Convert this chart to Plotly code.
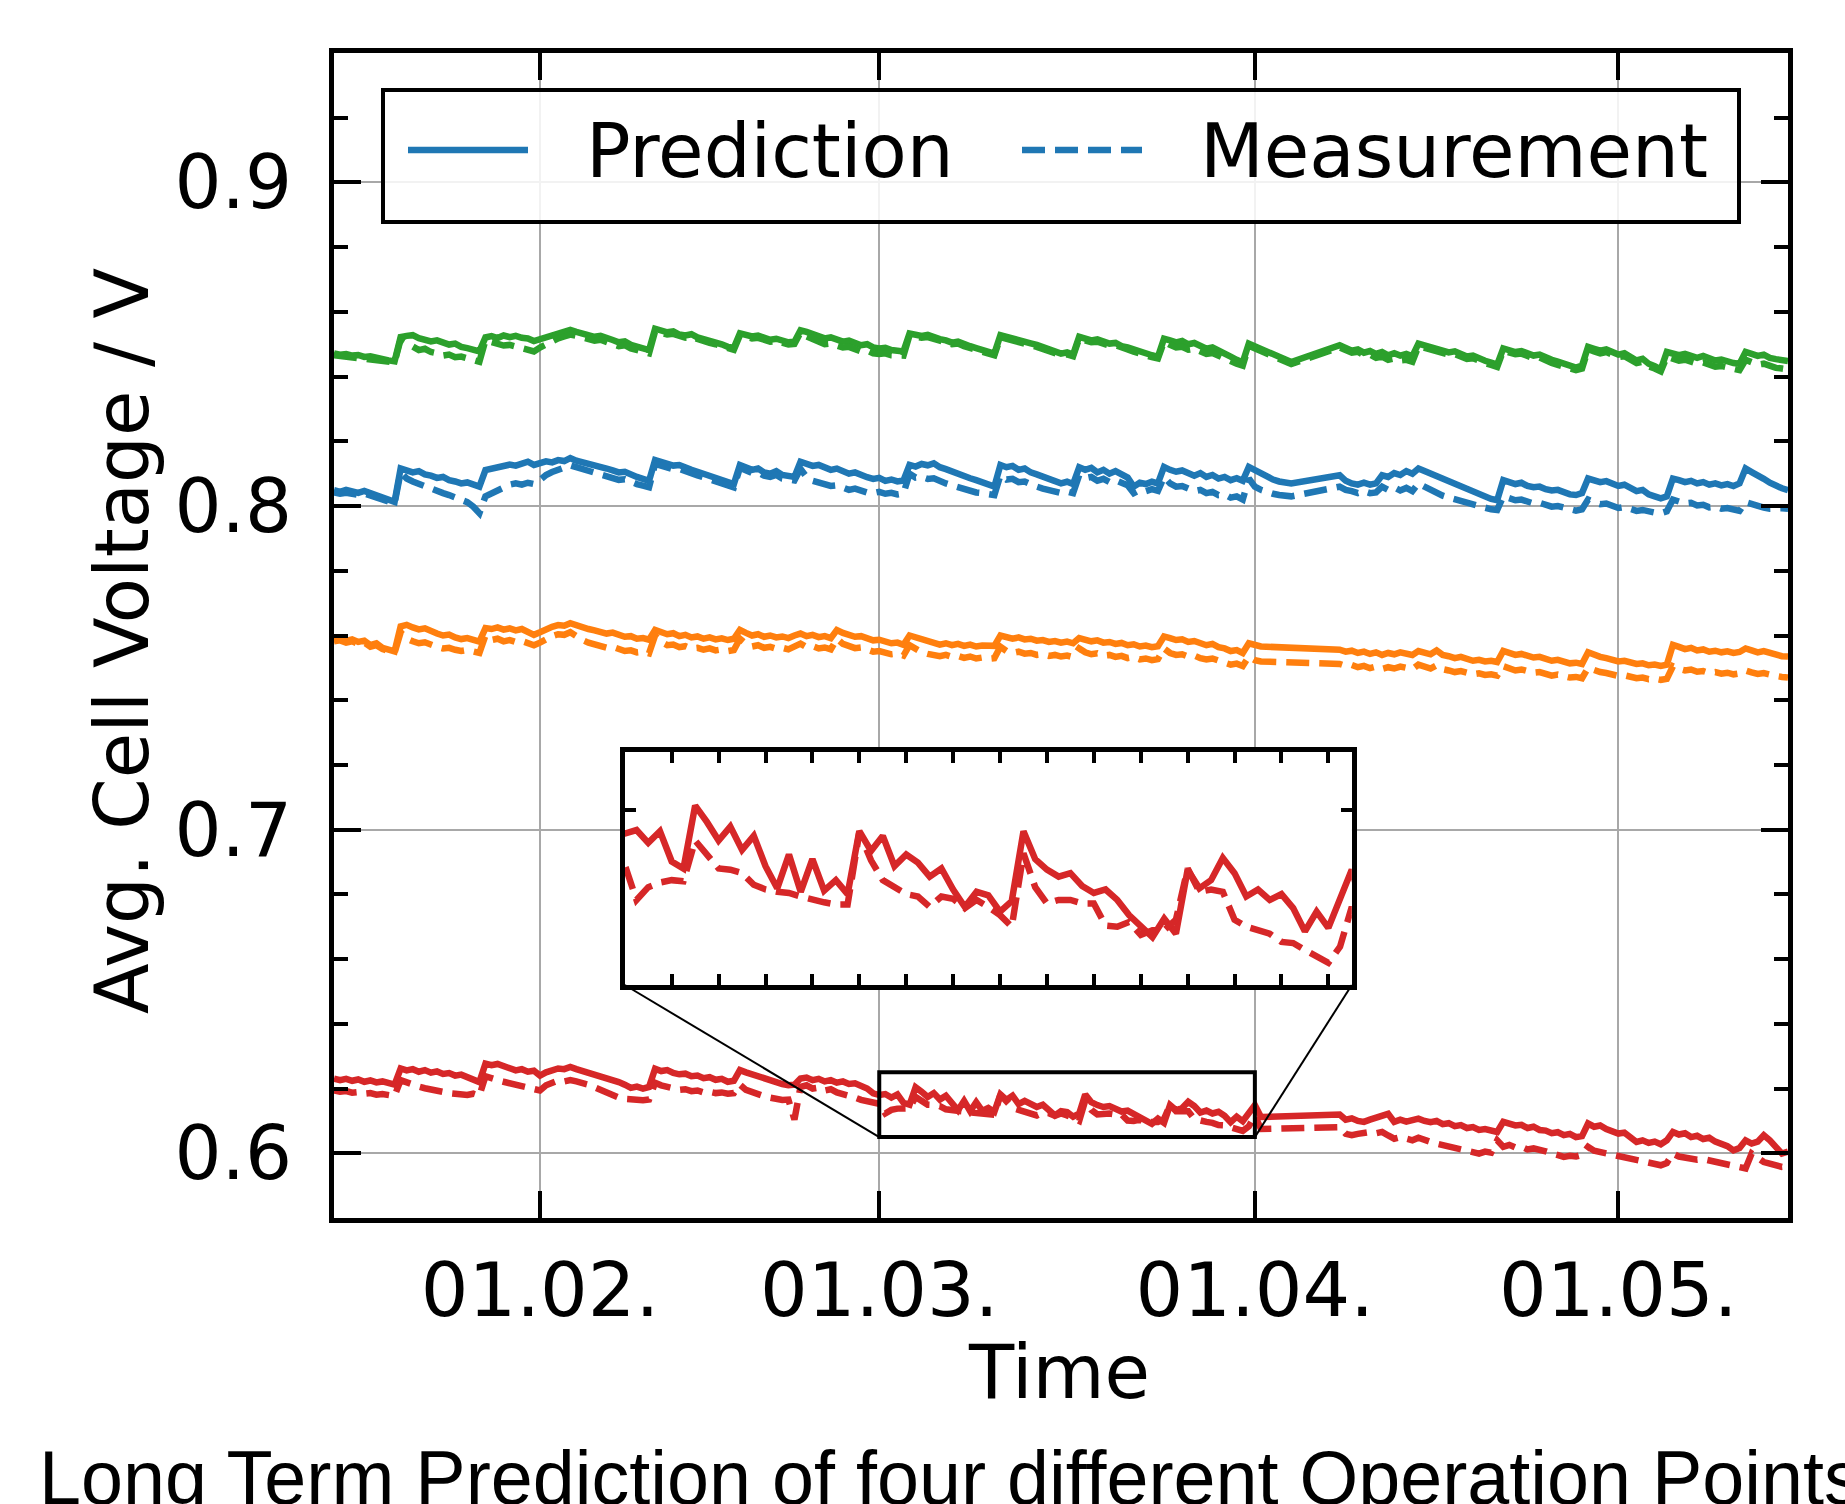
import plotly.graph_objects as go
import pandas as pd

# ---------------- data (12 h sampling, 15 Jan - 15 May) ----------------
start_date = "2021-01-15"
end_date = "2021-05-15"
n_points = 241
times = pd.date_range(start_date, periods=n_points, freq="12h")

month_ticks = ["2021-02-01", "2021-03-01", "2021-04-01", "2021-05-01"]
month_labels = ["01.02.", "01.03.", "01.04.", "01.05."]
y_ticks = [0.6, 0.7, 0.8, 0.9]

green_pred = [
    0.8472, 0.8468, 0.8470, 0.8465, 0.8467, 0.8461, 0.8463, 0.8457, 0.8455, 0.8450,
    0.8447, 0.8522, 0.8526, 0.8528, 0.8519, 0.8515, 0.8509, 0.8512, 0.8503, 0.8499,
    0.8502, 0.8492, 0.8488, 0.8484, 0.8478, 0.8521, 0.8525, 0.8519, 0.8527, 0.8522,
    0.8526, 0.8520, 0.8518, 0.8510, 0.8516, 0.8525, 0.8530, 0.8536, 0.8540, 0.8544,
    0.8538, 0.8534, 0.8530, 0.8523, 0.8526, 0.8517, 0.8513, 0.8506, 0.8509, 0.8498,
    0.8494, 0.8488, 0.8482, 0.8548, 0.8544, 0.8537, 0.8540, 0.8530, 0.8527, 0.8531,
    0.8521, 0.8517, 0.8510, 0.8505, 0.8500, 0.8492, 0.8489, 0.8534, 0.8530, 0.8524,
    0.8527, 0.8519, 0.8514, 0.8517, 0.8510, 0.8506, 0.8508, 0.8543, 0.8538, 0.8532,
    0.8522, 0.8518, 0.8521, 0.8512, 0.8508, 0.8511, 0.8502, 0.8497, 0.8500, 0.8490,
    0.8487, 0.8489, 0.8482, 0.8480, 0.8478, 0.8533, 0.8530, 0.8526, 0.8529, 0.8521,
    0.8516, 0.8512, 0.8505, 0.8508, 0.8499, 0.8494, 0.8488, 0.8482, 0.8476, 0.8471,
    0.8528, 0.8524, 0.8519, 0.8514, 0.8510, 0.8503, 0.8498, 0.8490, 0.8484, 0.8476,
    0.8471, 0.8475, 0.8468, 0.8523, 0.8518, 0.8512, 0.8515, 0.8506, 0.8502, 0.8504,
    0.8494, 0.8490, 0.8483, 0.8476, 0.8470, 0.8466, 0.8461, 0.8517, 0.8512, 0.8506,
    0.8510, 0.8500, 0.8504, 0.8493, 0.8486, 0.8490, 0.8479, 0.8471, 0.8462, 0.8452,
    0.8444, 0.8502, 0.8494, 0.8486, 0.8478, 0.8470, 0.8462, 0.8455, 0.8445, None,
    None, None, None, None, None, None, 0.8497, 0.8488, 0.8480, 0.8484,
    0.8474, 0.8479, 0.8470, 0.8476, 0.8466, 0.8472, 0.8465, 0.8470, 0.8463, 0.8502,
    0.8497, 0.8491, 0.8486, 0.8481, 0.8475, 0.8478, 0.8468, 0.8462, 0.8465, 0.8455,
    0.8449, 0.8443, 0.8437, 0.8487, 0.8482, 0.8476, 0.8479, 0.8470, 0.8465, 0.8468,
    0.8458, 0.8452, 0.8446, 0.8440, 0.8432, 0.8428, 0.8434, 0.8492, 0.8486, 0.8480,
    0.8484, 0.8474, 0.8468, 0.8472, 0.8460, 0.8450, 0.8455, 0.8440, 0.8432, 0.8422,
    0.8476, 0.8472, 0.8466, 0.8470, 0.8462, 0.8458, 0.8464, 0.8455, 0.8450, 0.8453,
    0.8446, 0.8442, 0.8440, 0.8476, 0.8470, 0.8464, 0.8468, 0.8458, 0.8454, 0.8450,
    0.8448,
]

green_meas = [
    0.8466, 0.8464, 0.8462, 0.8460, 0.8458, 0.8456, 0.8455, 0.8452, 0.8450, 0.8446,
    0.8444, 0.8515, 0.8502, 0.8490, 0.8482, 0.8486, 0.8476, 0.8472, 0.8465, 0.8468,
    0.8460, 0.8462, 0.8455, 0.8450, 0.8446, 0.8512, 0.8505, 0.8500, 0.8496, 0.8498,
    0.8492, 0.8488, 0.8483, 0.8478, 0.8490, 0.8500, 0.8510, 0.8518, 0.8524, 0.8530,
    0.8526, 0.8522, 0.8516, 0.8511, 0.8514, 0.8505, 0.8500, 0.8494, 0.8497, 0.8487,
    0.8483, 0.8477, 0.8472, 0.8540, 0.8536, 0.8530, 0.8532, 0.8524, 0.8520, 0.8523,
    0.8515, 0.8511, 0.8504, 0.8500, 0.8494, 0.8487, 0.8483, 0.8528, 0.8524, 0.8518,
    0.8520, 0.8513, 0.8508, 0.8510, 0.8503, 0.8499, 0.8501, 0.8536, 0.8524, 0.8515,
    0.8505, 0.8500, 0.8502, 0.8494, 0.8490, 0.8492, 0.8484, 0.8478, 0.8481, 0.8472,
    0.8470, 0.8472, 0.8466, 0.8468, 0.8465, 0.8528, 0.8524, 0.8520, 0.8522, 0.8515,
    0.8510, 0.8506, 0.8500, 0.8502, 0.8494, 0.8489, 0.8483, 0.8477, 0.8471, 0.8466,
    0.8522, 0.8518, 0.8513, 0.8508, 0.8504, 0.8497, 0.8492, 0.8485, 0.8479, 0.8471,
    0.8466, 0.8469, 0.8463, 0.8518, 0.8512, 0.8506, 0.8508, 0.8500, 0.8496, 0.8497,
    0.8488, 0.8484, 0.8477, 0.8470, 0.8464, 0.8460, 0.8456, 0.8508, 0.8498, 0.8490,
    0.8492, 0.8483, 0.8486, 0.8476, 0.8470, 0.8473, 0.8463, 0.8456, 0.8448, 0.8440,
    0.8434, 0.8495, 0.8487, 0.8479, 0.8471, 0.8463, 0.8455, 0.8448, 0.8439, None,
    None, None, None, None, None, None, 0.8490, 0.8481, 0.8474, 0.8477,
    0.8466, 0.8468, 0.8458, 0.8462, 0.8452, 0.8456, 0.8450, 0.8452, 0.8446, 0.8494,
    0.8489, 0.8484, 0.8479, 0.8474, 0.8468, 0.8470, 0.8461, 0.8455, 0.8457, 0.8448,
    0.8442, 0.8436, 0.8430, 0.8480, 0.8475, 0.8469, 0.8471, 0.8462, 0.8457, 0.8459,
    0.8448, 0.8442, 0.8436, 0.8430, 0.8424, 0.8420, 0.8425, 0.8485, 0.8478, 0.8472,
    0.8476, 0.8466, 0.8460, 0.8463, 0.8452, 0.8442, 0.8446, 0.8432, 0.8425, 0.8416,
    0.8462, 0.8455, 0.8449, 0.8452, 0.8444, 0.8440, 0.8444, 0.8436, 0.8431, 0.8433,
    0.8427, 0.8423, 0.8420, 0.8452, 0.8444, 0.8437, 0.8440, 0.8432, 0.8427, 0.8425,
    0.8422,
]

blue_pred = [
    0.8049, 0.8044, 0.8050, 0.8046, 0.8041, 0.8047, 0.8040, 0.8036, 0.8030, 0.8018,
    0.8013, 0.8116, 0.8110, 0.8104, 0.8108, 0.8098, 0.8094, 0.8087, 0.8090, 0.8080,
    0.8076, 0.8070, 0.8073, 0.8064, 0.8060, 0.8111, 0.8115, 0.8120, 0.8124, 0.8128,
    0.8125, 0.8132, 0.8137, 0.8127, 0.8132, 0.8138, 0.8135, 0.8142, 0.8139, 0.8148,
    0.8140, 0.8136, 0.8130, 0.8126, 0.8120, 0.8116, 0.8110, 0.8104, 0.8106, 0.8096,
    0.8090, 0.8084, 0.8078, 0.8142, 0.8136, 0.8130, 0.8125, 0.8127, 0.8118, 0.8112,
    0.8106, 0.8100, 0.8094, 0.8088, 0.8080, 0.8075, 0.8068, 0.8127, 0.8120, 0.8112,
    0.8116, 0.8104, 0.8100, 0.8108, 0.8096, 0.8093, 0.8090, 0.8137, 0.8131, 0.8124,
    0.8127, 0.8117, 0.8112, 0.8116, 0.8106, 0.8100, 0.8104, 0.8094, 0.8089, 0.8084,
    0.8087, 0.8078, 0.8082, 0.8076, 0.8079, 0.8127, 0.8122, 0.8130, 0.8126, 0.8132,
    0.8120, 0.8114, 0.8106, 0.8100, 0.8094, 0.8086, 0.8080, 0.8072, 0.8066, 0.8060,
    0.8127, 0.8120, 0.8124, 0.8112, 0.8116, 0.8104, 0.8098, 0.8090, 0.8082, 0.8074,
    0.8070, 0.8075, 0.8068, 0.8120, 0.8112, 0.8118, 0.8104, 0.8112, 0.8100, 0.8108,
    0.8096, 0.8088, 0.8060, 0.8072, 0.8068, 0.8075, 0.8070, 0.8121, 0.8112, 0.8106,
    0.8110, 0.8100, 0.8094, 0.8102, 0.8090, 0.8096, 0.8085, 0.8090, 0.8080, 0.8086,
    0.8078, 0.8121, 0.8110, 0.8100, 0.8090, 0.8082, 0.8076, 0.8072, 0.8070, None,
    None, None, None, None, None, None, 0.8095, 0.8078, 0.8070, 0.8066,
    0.8072, 0.8066, 0.8070, 0.8095, 0.8090, 0.8102, 0.8096, 0.8108, 0.8100, 0.8116,
    0.8108, 0.8100, 0.8092, 0.8084, 0.8076, 0.8068, 0.8060, 0.8052, 0.8044, 0.8036,
    0.8030, 0.8022, 0.8018, 0.8080, 0.8074, 0.8068, 0.8072, 0.8062, 0.8058, 0.8060,
    0.8052, 0.8048, 0.8050, 0.8042, 0.8036, 0.8034, 0.8040, 0.8085, 0.8080, 0.8074,
    0.8077, 0.8068, 0.8062, 0.8066, 0.8055, 0.8046, 0.8050, 0.8036, 0.8030, 0.8024,
    0.8030, 0.8085, 0.8080, 0.8074, 0.8078, 0.8070, 0.8074, 0.8066, 0.8070, 0.8064,
    0.8068, 0.8062, 0.8070, 0.8116, 0.8105, 0.8096, 0.8084, 0.8072, 0.8062, 0.8055,
    0.8049,
]

blue_meas = [
    0.8042, 0.8038, 0.8041, 0.8037, 0.8035, 0.8039, 0.8033, 0.8030, 0.8025, 0.8014,
    0.8008, 0.8105, 0.8085, 0.8076, 0.8068, 0.8060, 0.8052, 0.8046, 0.8040, 0.8034,
    0.8028, 0.8020, 0.8012, 0.7998, 0.7978, 0.8030, 0.8040, 0.8046, 0.8058, 0.8066,
    0.8070, 0.8066, 0.8072, 0.8068, 0.8080, 0.8096, 0.8105, 0.8112, 0.8118, 0.8126,
    0.8120, 0.8114, 0.8108, 0.8103, 0.8097, 0.8093, 0.8087, 0.8081, 0.8083, 0.8074,
    0.8068, 0.8063, 0.8058, 0.8130, 0.8124, 0.8118, 0.8114, 0.8115, 0.8107, 0.8101,
    0.8095, 0.8089, 0.8083, 0.8077, 0.8070, 0.8065, 0.8058, 0.8118, 0.8110, 0.8102,
    0.8104, 0.8094, 0.8090, 0.8096, 0.8085, 0.8082, 0.8079, 0.8115, 0.8090, 0.8078,
    0.8072, 0.8066, 0.8062, 0.8064, 0.8056, 0.8050, 0.8054, 0.8046, 0.8042, 0.8040,
    0.8044, 0.8038, 0.8041, 0.8036, 0.8039, 0.8100, 0.8088, 0.8090, 0.8084, 0.8086,
    0.8076, 0.8070, 0.8064, 0.8058, 0.8052, 0.8046, 0.8042, 0.8040, 0.8036, 0.8034,
    0.8095, 0.8082, 0.8084, 0.8074, 0.8076, 0.8066, 0.8060, 0.8054, 0.8048, 0.8044,
    0.8040, 0.8045, 0.8040, 0.8095, 0.8086, 0.8090, 0.8078, 0.8084, 0.8074, 0.8080,
    0.8070, 0.8064, 0.8040, 0.8050, 0.8046, 0.8052, 0.8047, 0.8090, 0.8070, 0.8060,
    0.8062, 0.8052, 0.8046, 0.8050, 0.8040, 0.8044, 0.8034, 0.8036, 0.8026, 0.8030,
    0.8020, 0.8085, 0.8060, 0.8050, 0.8042, 0.8038, 0.8034, 0.8032, 0.8030, None,
    None, None, None, None, None, None, 0.8060, 0.8050, 0.8046, 0.8040,
    0.8046, 0.8040, 0.8042, 0.8060, 0.8050, 0.8058, 0.8048, 0.8056, 0.8046, 0.8070,
    0.8060, 0.8050, 0.8040, 0.8032, 0.8026, 0.8020, 0.8014, 0.8008, 0.8003, 0.7998,
    0.7995, 0.7990, 0.7988, 0.8030, 0.8024, 0.8018, 0.8020, 0.8012, 0.8008, 0.8010,
    0.8002, 0.7998, 0.8000, 0.7994, 0.7989, 0.7986, 0.7990, 0.8020, 0.8012, 0.8006,
    0.8008, 0.7999, 0.7994, 0.7997, 0.7990, 0.7985, 0.7988, 0.7982, 0.7980, 0.7978,
    0.7984, 0.8020, 0.8014, 0.8008, 0.8010, 0.8002, 0.8004, 0.7996, 0.7998, 0.7992,
    0.7994, 0.7988, 0.7985, 0.8012, 0.8005, 0.7999, 0.7995, 0.7992, 0.7990, 0.7993,
    0.7992,
]

orange_pred = [
    0.7587, 0.7590, 0.7583, 0.7588, 0.7580, 0.7584, 0.7570, 0.7576, 0.7562, 0.7556,
    0.7551, 0.7628, 0.7633, 0.7625, 0.7619, 0.7622, 0.7612, 0.7606, 0.7600, 0.7603,
    0.7594, 0.7589, 0.7592, 0.7585, 0.7581, 0.7623, 0.7620, 0.7625, 0.7618, 0.7622,
    0.7616, 0.7620, 0.7612, 0.7602, 0.7610, 0.7620, 0.7627, 0.7632, 0.7630, 0.7638,
    0.7631, 0.7626, 0.7620, 0.7616, 0.7610, 0.7606, 0.7609, 0.7600, 0.7596, 0.7598,
    0.7590, 0.7592, 0.7587, 0.7617, 0.7610, 0.7604, 0.7607, 0.7598, 0.7602, 0.7594,
    0.7597, 0.7590, 0.7594, 0.7588, 0.7591, 0.7586, 0.7590, 0.7617, 0.7608, 0.7600,
    0.7604, 0.7596, 0.7600, 0.7594, 0.7597, 0.7592, 0.7600, 0.7606, 0.7598, 0.7602,
    0.7595, 0.7598, 0.7592, 0.7617, 0.7608, 0.7602, 0.7596, 0.7598, 0.7590, 0.7585,
    0.7587, 0.7580, 0.7576, 0.7578, 0.7571, 0.7600, 0.7594, 0.7586, 0.7580, 0.7577,
    0.7572, 0.7576, 0.7570, 0.7574, 0.7568, 0.7572, 0.7566, 0.7569, 0.7566, 0.7568,
    0.7600, 0.7596, 0.7590, 0.7594, 0.7588, 0.7590, 0.7584, 0.7586, 0.7580, 0.7583,
    0.7578, 0.7581, 0.7576, 0.7592, 0.7588, 0.7582, 0.7585, 0.7578, 0.7580, 0.7574,
    0.7577, 0.7570, 0.7573, 0.7566, 0.7569, 0.7564, 0.7567, 0.7597, 0.7592, 0.7586,
    0.7588, 0.7580, 0.7583, 0.7575, 0.7570, 0.7574, 0.7564, 0.7560, 0.7552, 0.7555,
    0.7546, 0.7576, 0.7570, 0.7566, None, None, None, None, None, None,
    None, None, None, None, None, None, 0.7556, 0.7550, 0.7553, 0.7546,
    0.7550, 0.7543, 0.7548, 0.7540, 0.7546, 0.7542, 0.7548, 0.7544, 0.7540, 0.7552,
    0.7548, 0.7542, 0.7554, 0.7540, 0.7536, 0.7530, 0.7534, 0.7526, 0.7522, 0.7525,
    0.7520, 0.7522, 0.7518, 0.7552, 0.7546, 0.7540, 0.7543, 0.7536, 0.7532, 0.7534,
    0.7527, 0.7522, 0.7525, 0.7518, 0.7514, 0.7516, 0.7512, 0.7548, 0.7540, 0.7534,
    0.7530, 0.7524, 0.7520, 0.7522, 0.7515, 0.7512, 0.7514, 0.7508, 0.7510, 0.7506,
    0.7510, 0.7571, 0.7565, 0.7558, 0.7562, 0.7554, 0.7557, 0.7550, 0.7553, 0.7548,
    0.7551, 0.7546, 0.7549, 0.7560, 0.7554, 0.7548, 0.7552, 0.7545, 0.7540, 0.7536,
    0.7535,
]

orange_meas = [
    0.7582, 0.7585, 0.7578, 0.7582, 0.7574, 0.7578, 0.7565, 0.7570, 0.7558, 0.7552,
    0.7547, 0.7610, 0.7590, 0.7582, 0.7576, 0.7579, 0.7570, 0.7565, 0.7560, 0.7562,
    0.7556, 0.7552, 0.7555, 0.7549, 0.7546, 0.7600, 0.7586, 0.7590, 0.7582, 0.7586,
    0.7580, 0.7583, 0.7576, 0.7570, 0.7578, 0.7590, 0.7598, 0.7604, 0.7602, 0.7610,
    0.7595, 0.7586, 0.7578, 0.7572, 0.7566, 0.7562, 0.7565, 0.7556, 0.7552, 0.7554,
    0.7548, 0.7550, 0.7545, 0.7600, 0.7580, 0.7570, 0.7572, 0.7564, 0.7567, 0.7560,
    0.7562, 0.7556, 0.7560, 0.7554, 0.7557, 0.7552, 0.7555, 0.7590, 0.7574, 0.7566,
    0.7570, 0.7562, 0.7565, 0.7559, 0.7562, 0.7557, 0.7565, 0.7575, 0.7564, 0.7567,
    0.7560, 0.7563, 0.7557, 0.7590, 0.7574, 0.7567, 0.7561, 0.7563, 0.7555, 0.7550,
    0.7552, 0.7546, 0.7542, 0.7544, 0.7538, 0.7570, 0.7556, 0.7548, 0.7543, 0.7540,
    0.7536, 0.7540, 0.7534, 0.7537, 0.7531, 0.7535, 0.7529, 0.7532, 0.7528, 0.7530,
    0.7565, 0.7552, 0.7546, 0.7550, 0.7544, 0.7546, 0.7540, 0.7542, 0.7537, 0.7540,
    0.7535, 0.7538, 0.7533, 0.7560, 0.7548, 0.7542, 0.7545, 0.7538, 0.7540, 0.7534,
    0.7537, 0.7530, 0.7533, 0.7526, 0.7529, 0.7524, 0.7527, 0.7560, 0.7546, 0.7540,
    0.7542, 0.7535, 0.7538, 0.7530, 0.7526, 0.7529, 0.7520, 0.7516, 0.7510, 0.7513,
    0.7506, 0.7535, 0.7524, 0.7520, None, None, None, None, None, None,
    None, None, None, None, None, None, 0.7512, 0.7506, 0.7509, 0.7502,
    0.7506, 0.7499, 0.7504, 0.7497, 0.7502, 0.7498, 0.7504, 0.7500, 0.7496, 0.7510,
    0.7504, 0.7498, 0.7508, 0.7496, 0.7492, 0.7487, 0.7490, 0.7484, 0.7480, 0.7483,
    0.7478, 0.7480, 0.7476, 0.7505, 0.7498, 0.7492, 0.7495, 0.7489, 0.7485, 0.7487,
    0.7481, 0.7476, 0.7479, 0.7473, 0.7470, 0.7472, 0.7468, 0.7500, 0.7492, 0.7487,
    0.7484, 0.7478, 0.7475, 0.7477, 0.7471, 0.7468, 0.7470, 0.7465, 0.7467, 0.7463,
    0.7466, 0.7505, 0.7497, 0.7492, 0.7495, 0.7488, 0.7490, 0.7484, 0.7487, 0.7482,
    0.7485, 0.7480, 0.7483, 0.7492, 0.7486, 0.7481, 0.7484, 0.7478, 0.7475, 0.7472,
    0.7470,
]

red_pred = [
    0.6231, 0.6226, 0.6230, 0.6224, 0.6228, 0.6221, 0.6225, 0.6219, 0.6222, 0.6215,
    0.6212, 0.6262, 0.6256, 0.6260, 0.6252, 0.6257, 0.6249, 0.6253, 0.6245, 0.6248,
    0.6240, 0.6243, 0.6236, 0.6230, 0.6220, 0.6277, 0.6272, 0.6276, 0.6268, 0.6261,
    0.6256, 0.6260, 0.6252, 0.6255, 0.6240, 0.6250, 0.6258, 0.6262, 0.6260, 0.6267,
    0.6260, 0.6255, 0.6249, 0.6243, 0.6238, 0.6232, 0.6226, 0.6220, 0.6212, 0.6202,
    0.6206, 0.6200, 0.6205, 0.6261, 0.6254, 0.6257, 0.6248, 0.6244, 0.6246, 0.6238,
    0.6240, 0.6232, 0.6235, 0.6227, 0.6230, 0.6221, 0.6224, 0.6257, 0.6250, 0.6245,
    0.6238, 0.6232, 0.6226, 0.6220, 0.6214, 0.6210, 0.6212, 0.6231, 0.6234, 0.6226,
    0.6230, 0.6222, 0.6226, 0.6218, 0.6222, 0.6214, 0.6216, 0.6208, 0.6200, 0.6185,
    0.6180, 0.6183, 0.6172, 0.6182, 0.6156, 0.6150, 0.6204, 0.6190, 0.6174, 0.6186,
    0.6166, 0.6178, 0.6152, 0.6133, 0.6162, 0.6130, 0.6158, 0.6131, 0.6140, 0.6128,
    0.6182, 0.6165, 0.6178, 0.6152, 0.6162, 0.6155, 0.6143, 0.6150, 0.6132, 0.6117,
    0.6130, 0.6127, 0.6113, 0.6122, 0.6182, 0.6158, 0.6149, 0.6143, 0.6146, 0.6135,
    0.6129, 0.6132, 0.6123, 0.6110, 0.6100, 0.6091, 0.6107, 0.6094, 0.6149, 0.6133,
    0.6140, 0.6159, 0.6146, 0.6126, 0.6132, 0.6123, 0.6128, 0.6116, 0.6096, 0.6113,
    0.6099, 0.6125, 0.6149, 0.6112, None, None, None, None, None, None,
    None, None, None, None, None, None, 0.6120, 0.6104, 0.6108, 0.6100,
    0.6097, 0.6104, 0.6110, 0.6116, 0.6122, 0.6097, 0.6104, 0.6098, 0.6102, 0.6107,
    0.6100, 0.6096, 0.6100, 0.6090, 0.6093, 0.6084, 0.6087, 0.6078, 0.6081, 0.6072,
    0.6075, 0.6068, 0.6066, 0.6097, 0.6090, 0.6086, 0.6088, 0.6078, 0.6082, 0.6072,
    0.6070, 0.6062, 0.6065, 0.6056, 0.6060, 0.6050, 0.6053, 0.6092, 0.6082, 0.6086,
    0.6075, 0.6070, 0.6061, 0.6064, 0.6050, 0.6035, 0.6040, 0.6032, 0.6036, 0.6028,
    0.6040, 0.6066, 0.6058, 0.6062, 0.6050, 0.6054, 0.6044, 0.6048, 0.6036, 0.6030,
    0.6022, 0.6009, 0.6016, 0.6040, 0.6030, 0.6036, 0.6056, 0.6040, 0.6018, 0.5999,
    0.6005,
]

red_meas = [
    0.6194, 0.6190, 0.6192, 0.6187, 0.6189, 0.6184, 0.6186, 0.6181, 0.6183, 0.6179,
    0.6177, 0.6226, 0.6218, 0.6212, 0.6206, 0.6201, 0.6196, 0.6192, 0.6188, 0.6186,
    0.6184, 0.6182, 0.6180, 0.6184, 0.6178, 0.6238, 0.6230, 0.6226, 0.6221, 0.6217,
    0.6212, 0.6208, 0.6204, 0.6200, 0.6194, 0.6210, 0.6220, 0.6225, 0.6222, 0.6226,
    0.6222, 0.6218, 0.6212, 0.6204, 0.6195, 0.6186, 0.6178, 0.6172, 0.6168, 0.6165,
    0.6167, 0.6164, 0.6166, 0.6218, 0.6210, 0.6206, 0.6200, 0.6196, 0.6198, 0.6192,
    0.6194, 0.6188, 0.6190, 0.6186, 0.6188, 0.6184, 0.6186, 0.6212, 0.6196, 0.6188,
    0.6182, 0.6176, 0.6172, 0.6168, 0.6165, 0.6166, 0.6104, 0.6205, 0.6210, 0.6200,
    0.6203, 0.6194, 0.6198, 0.6188, 0.6184, 0.6176, 0.6172, 0.6165, 0.6160, 0.6155,
    0.6153, 0.6123, 0.6134, 0.6138, 0.6140, 0.6139, 0.6174, 0.6162, 0.6150, 0.6149,
    0.6146, 0.6136, 0.6132, 0.6130, 0.6129, 0.6126, 0.6123, 0.6121, 0.6119, 0.6119,
    0.6181, 0.6157, 0.6140, 0.6134, 0.6128, 0.6126, 0.6117, 0.6126, 0.6124, 0.6116,
    0.6123, 0.6117, 0.6110, 0.6100, 0.6163, 0.6134, 0.6120, 0.6123, 0.6123, 0.6120,
    0.6120, 0.6101, 0.6100, 0.6104, 0.6093, 0.6097, 0.6097, 0.6106, 0.6150, 0.6130,
    0.6132, 0.6130, 0.6106, 0.6100, 0.6097, 0.6094, 0.6087, 0.6086, 0.6080, 0.6074,
    0.6069, 0.6083, 0.6117, 0.6075, None, None, None, None, None, None,
    None, None, None, None, None, None, 0.6081, 0.6060, 0.6056, 0.6060,
    0.6062, 0.6066, 0.6062, 0.6066, 0.6055, 0.6045, 0.6050, 0.6045, 0.6040, 0.6048,
    0.6040, 0.6035, 0.6030, 0.6025, 0.6022, 0.6015, 0.6010, 0.6006, 0.6002, 0.5999,
    0.6005, 0.6002, 0.6040, 0.6020, 0.6026, 0.6018, 0.6020, 0.6012, 0.6015, 0.6008,
    0.6006, 0.6000, 0.5994, 0.5989, 0.5992, 0.5990, 0.5995, 0.6020, 0.6008, 0.6004,
    0.6000, 0.5996, 0.5990, 0.5986, 0.5980, 0.5975, 0.5972, 0.5968, 0.5965, 0.5963,
    0.5970, 0.5999, 0.5990, 0.5986, 0.5984, 0.5980, 0.5982, 0.5978, 0.5974, 0.5970,
    0.5966, 0.5960, 0.5955, 0.5953, 0.5999, 0.5985, 0.5973, 0.5968, 0.5962, 0.5958,
    0.5960,
]

series_names = ["Prediction", "Measurement"]
colors = {"blue": "#1f77b4", "orange": "#ff7f0e", "green": "#2ca02c", "red": "#d62728"}
series = [
    ("blue", blue_pred, blue_meas),
    ("orange", orange_pred, orange_meas),
    ("green", green_pred, green_meas),
    ("red", red_pred, red_meas),
]
for _, p, m in series:
    assert len(p) == n_points and len(m) == n_points

# inset (zoom) window
inset_x = ["2021-03-01", "2021-04-01"]
inset_y = [0.605, 0.625]
main_y = [0.58, 0.94]

# ---------------- layout geometry ----------------
W, H = 1845, 1504
ML, MR, MT, MB = 334, 57, 53, 286
PW, PH = W - ML - MR, H - MT - MB


def px(x):
    return (x - ML) / PW


def py(y):
    return (H - MB - y) / PH


FONT = "DejaVu Sans"
FS = 74
LW = 6.5
DASH = "23px,10px"
GRID = "#a8a8a8"

fig = go.Figure()
for key, pred, meas in series:
    c = colors[key]
    fig.add_trace(go.Scatter(x=times, y=pred, mode="lines", connectgaps=True,
                             line=dict(color=c, width=LW), showlegend=False,
                             name=f"{series_names[0]} ({key})"))
    fig.add_trace(go.Scatter(x=times, y=meas, mode="lines", connectgaps=True,
                             line=dict(color=c, width=LW, dash=DASH), showlegend=False,
                             name=f"{series_names[1]} ({key})"))

# inset traces (red operation point)
fig.add_trace(go.Scatter(x=times, y=red_pred, mode="lines", connectgaps=True,
                         line=dict(color=colors["red"], width=LW), showlegend=False,
                         xaxis="x2", yaxis="y2", name="Prediction (zoom)"))
fig.add_trace(go.Scatter(x=times, y=red_meas, mode="lines", connectgaps=True,
                         line=dict(color=colors["red"], width=LW, dash=DASH), showlegend=False,
                         xaxis="x2", yaxis="y2", name="Measurement (zoom)"))

axis_common = dict(showline=True, linecolor="black", linewidth=5, mirror="ticks",
                   ticks="inside", tickcolor="black", zeroline=False)

fig.update_layout(
    width=W, height=H, autosize=False,
    margin=dict(l=ML, r=MR, t=MT, b=MB, pad=0),
    paper_bgcolor="white", plot_bgcolor="white",
    font=dict(family=FONT, size=FS, color="black"),
    showlegend=False,
    xaxis=dict(axis_common, type="date", range=[start_date, end_date],
               tickmode="array", tickvals=month_ticks, ticktext=month_labels,
               ticklen=27, tickwidth=4, showgrid=True, gridcolor=GRID, gridwidth=2,
               tickfont=dict(family=FONT, size=75), ticklabelstandoff=3),
    yaxis=dict(axis_common, range=main_y, tick0=0, dtick=0.1, tickformat=".1f",
               ticklen=27, tickwidth=4, showgrid=True, gridcolor=GRID, gridwidth=2,
               tickfont=dict(family=FONT, size=FS), ticklabelstandoff=22,
               minor=dict(dtick=0.02, tick0=0, ticklen=14, tickwidth=4, ticks="inside",
                          tickcolor="black", showgrid=False)),
    xaxis2=dict(axis_common, type="date", range=inset_x, domain=[0.2, 0.7], anchor="y2",
                tick0=inset_x[0], dtick=2 * 86400000, ticklen=11, tickwidth=4,
                showticklabels=False, showgrid=False),
    yaxis2=dict(axis_common, range=inset_y, domain=[0.2, 0.4], anchor="x2",
                tickmode="array", tickvals=[0.62], ticklen=11, tickwidth=4,
                showticklabels=False, showgrid=False),
)

# white background of the inset (covers the main grid, below inset traces)
fig.add_shape(type="rect", xref="x2", yref="y2", x0=inset_x[0], x1=inset_x[1],
              y0=inset_y[0], y1=inset_y[1], fillcolor="white", line=dict(width=0),
              layer="below")

# rectangle marking the zoomed region in the main axes
fig.add_shape(type="rect", xref="x", yref="y", x0=inset_x[0], x1=inset_x[1],
              y0=inset_y[0], y1=inset_y[1], line=dict(color="black", width=4),
              fillcolor="rgba(0,0,0,0)", layer="above")

# connector lines (lower-left and lower-right corners)
t0 = pd.Timestamp(start_date)
t1 = pd.Timestamp(end_date)
span = (t1 - t0).total_seconds()
rx0 = (pd.Timestamp(inset_x[0]) - t0).total_seconds() / span
rx1 = (pd.Timestamp(inset_x[1]) - t0).total_seconds() / span
ry0 = (inset_y[0] - main_y[0]) / (main_y[1] - main_y[0])
for (ix, rx) in [(0.2, rx0), (0.7, rx1)]:
    fig.add_shape(type="line", xref="paper", yref="paper", x0=ix, y0=0.2, x1=rx, y1=ry0,
                  line=dict(color="black", width=2), layer="above")

# legend (drawn manually so handle lengths match)
fig.add_shape(type="rect", xref="paper", yref="paper", x0=px(383), x1=px(1739),
              y0=py(222), y1=py(90), line=dict(color="black", width=4),
              fillcolor="rgba(255,255,255,0.85)", layer="above")
fig.add_shape(type="line", xref="paper", yref="paper", x0=px(408), x1=px(528),
              y0=py(150), y1=py(150), line=dict(color=colors["blue"], width=LW), layer="above")
fig.add_shape(type="line", xref="paper", yref="paper", x0=px(1022), x1=px(1142),
              y0=py(150), y1=py(150), line=dict(color=colors["blue"], width=LW, dash=DASH),
              layer="above")

annotations = [
    dict(text=series_names[0], x=px(584), y=py(151), xanchor="left", yanchor="middle"),
    dict(text=series_names[1], x=px(1198), y=py(151), xanchor="left", yanchor="middle"),
    dict(text="Time", x=px(1059), y=py(1372), xanchor="center", yanchor="middle"),
    dict(text="Avg. Cell Voltage / V", x=px(122), y=py(641), xanchor="center",
         yanchor="middle", textangle=-90),
]
for a in annotations:
    fig.add_annotation(xref="paper", yref="paper", showarrow=False,
                       font=dict(family=FONT, size=FS, color="black"), **a)

fig.add_annotation(text="Long Term Prediction of four different Operation Points",
                   xref="paper", yref="paper", x=px(37), y=py(1434), xanchor="left",
                   yanchor="top", showarrow=False,
                   font=dict(family="Liberation Sans, Arial", size=75.5, color="black"))

fig.write_html("out.html", config={"displayModeBar": False},
               post_script="document.body.style.margin='0';")
